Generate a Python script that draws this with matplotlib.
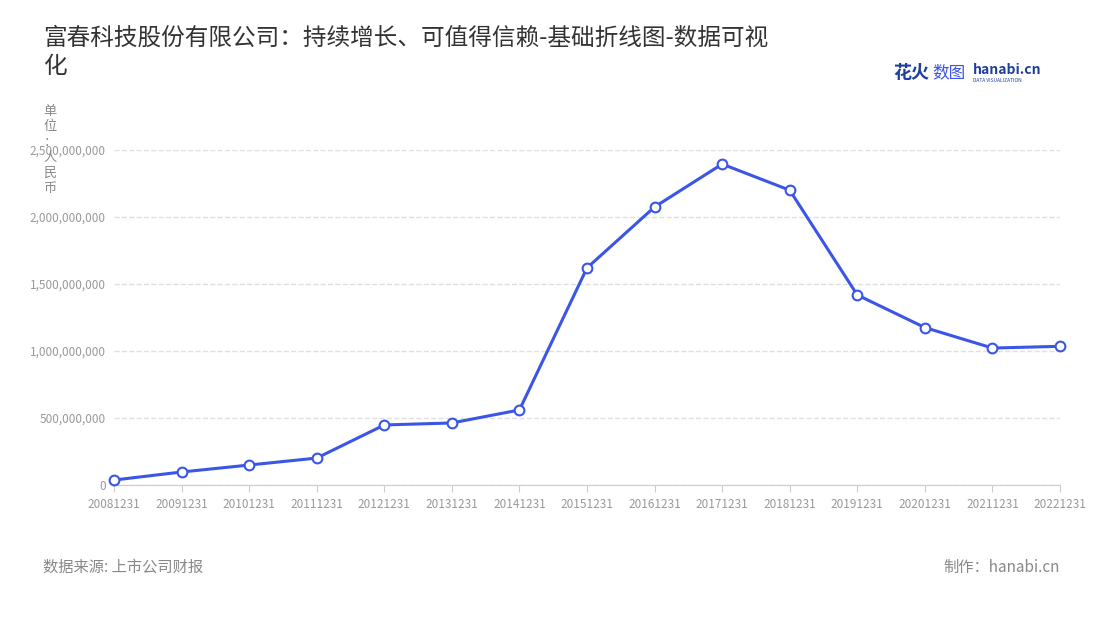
import matplotlib
matplotlib.use("Agg")
import matplotlib.pyplot as plt
from matplotlib.ticker import FuncFormatter

plt.rcParams['font.family'] = ['Noto Sans CJK SC', 'DejaVu Sans']

years = ["20081231","20091231","20101231","20111231","20121231","20131231","20141231",
         "20151231","20161231","20171231","20181231","20191231","20201231","20211231","20221231"]
values = [37e6, 97e6, 149e6, 201e6, 448e6, 463e6, 560e6,
          1620e6, 2075e6, 2395e6, 2200e6, 1418e6, 1175e6, 1022e6, 1035e6]
yticks = [0, 500e6, 1000e6, 1500e6, 2000e6, 2500e6]

fig = plt.figure(figsize=(11, 6.2), dpi=100)
ax = fig.add_axes([114/1100, 1-485/620, (1060-114)/1100, (485-150)/620])
x = list(range(len(years)))
ax.plot(x, values, color='#3b55e6', lw=2.2, marker='o', ms=7,
        markerfacecolor='white', markeredgecolor='#3b55e6', markeredgewidth=1.5, zorder=3, clip_on=False)
ax.set_xlim(0, len(years)-1)
ax.set_ylim(0, 2.5e9)
ax.set_yticks(yticks)
ax.yaxis.set_major_formatter(FuncFormatter(lambda v, p: f"{int(v):,}"))
ax.set_xticks(x)
ax.set_xticklabels(years)
ax.tick_params(axis='both', labelsize=8.5, colors='#999999', length=0, pad=6)
ax.tick_params(axis='x', length=5, color='#cccccc', pad=4)
ax.grid(axis='y', color='#e0e0e0', ls='--', lw=1)
for s in ['top', 'right', 'left']:
    ax.spines[s].set_visible(False)
ax.spines['bottom'].set_color('#cccccc')

fig.text(43/1100, 1-52/620, "富春科技股份有限公司：持续增长、可值得信赖-基础折线图-数据可视\n化",
         fontsize=17, color='#333333', va='center', linespacing=1.3)
fig.text(50/1100, 1-150/620, "单\n位\n：\n人\n民\n币", fontsize=9.5, color='#888888',
         ha='center', va='center', linespacing=1.25)
fig.text(893/1100, 1-73/620, "花火", fontsize=13, color='#1f3f9e', fontweight='bold', va='center')
fig.text(932/1100, 1-73/620, "数图", fontsize=12, color='#3b55e6', va='center')
fig.text(973/1100, 1-70/620, "hanabi.cn", fontsize=10, color='#1f3f9e', fontweight='bold', va='center')
fig.text(973/1100, 1-80/620, "DATA VISUALIZATION", fontsize=3.5, color='#1f3f9e', va='center')
fig.text(43/1100, 1-567/620, "数据来源: 上市公司财报", fontsize=11, color='#888888', va='center')
fig.text(1060/1100, 1-567/620, "制作：hanabi.cn", fontsize=11, color='#888888', va='center', ha='right')
fig.savefig("out.png", dpi=100)
